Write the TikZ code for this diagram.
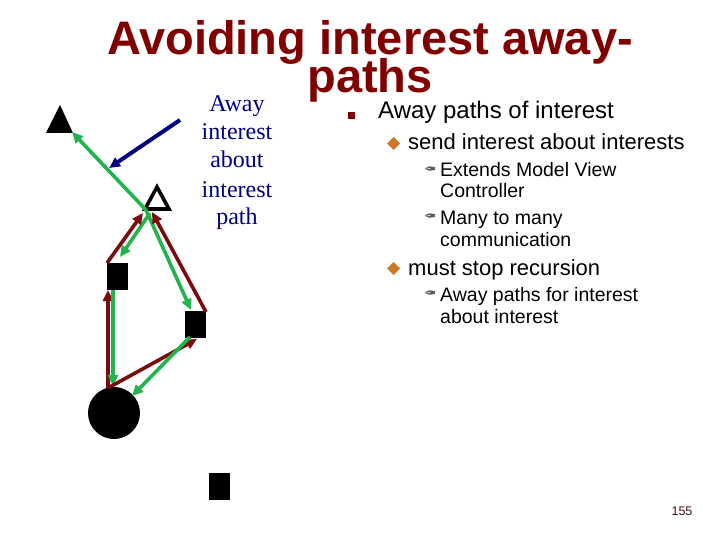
\documentclass[tikz,border=0pt]{standalone}
\usepackage{fontspec}
\setmainfont{Liberation Sans}
\newfontfamily\serifnavy{Liberation Serif}
\newfontfamily\dingfont{DejaVu Sans}
\usetikzlibrary{arrows.meta}
\definecolor{titlered}{RGB}{128,0,0}
\definecolor{arrred}{RGB}{122,12,12}
\definecolor{arrgreen}{RGB}{34,180,76}
\definecolor{navyblue}{RGB}{0,0,128}
\definecolor{bulorange}{RGB}{204,120,40}
\definecolor{pagenum}{RGB}{60,20,20}
\begin{document}
\begin{tikzpicture}[x=1pt,y=-1pt,
  titletxt/.style={font=\fontsize{47}{47}\selectfont\bfseries, text=titlered, inner sep=0, anchor=base},
  navytxt/.style={font=\serifnavy\fontsize{24}{28}\selectfont, text=navyblue, anchor=base, inner sep=0},
  lvlone/.style={font=\fontsize{24}{28}\selectfont, anchor=base west, inner sep=0},
  lvltwo/.style={font=\fontsize{22}{26}\selectfont, anchor=base west, inner sep=0},
  lvlthree/.style={font=\fontsize{19.5}{21}\selectfont, anchor=base west, inner sep=0},
  penbullet/.style={font=\dingfont\fontsize{15}{15}\selectfont, text=black!65, inner sep=0, xscale=-1},
  blkbox/.style={fill=black, draw=none, inner sep=0, minimum width=21pt, minimum height=27pt},
  tip/.style={-{Triangle[length=11pt,width=10pt]}},
  gr/.style={draw=arrgreen, line width=3.6pt, tip},
  rd/.style={draw=arrred, line width=3.6pt, tip},
  nv/.style={draw=navyblue, line width=4pt, tip}]
\useasboundingbox (0,0) rectangle (720,540);

% title
\node[titletxt] (t1) at (370,55) {Avoiding interest away-};
\node[titletxt] (t2) at (370,93) {paths};

% navy label
\node[navytxt] (n1) at (237,112) {Away};
\node[navytxt] (n2) at (237,140) {interest};
\node[navytxt] (n3) at (237,168) {about};
\node[navytxt] (n4) at (237,197) {interest};
\node[navytxt] (n5) at (237,225) {path};

% bullets
\fill[titlered] (348,112) rectangle (355,119);
\fill[bulorange] (393.5,137) -- (400,143.5) -- (393.5,150) -- (387,143.5) -- cycle;
\fill[bulorange] (393.5,262) -- (400,268.5) -- (393.5,275) -- (387,268.5) -- cycle;
\node[penbullet] (p1) at (430,171) {✒};
\node[penbullet] (p2) at (430,218) {✒};
\node[penbullet] (p3) at (430,295) {✒};

\node[lvlone] (l1) at (378,119) {Away paths of interest};
\node[lvltwo] (l2) at (408,150) {send interest about interests};
\node[lvlthree] (l3) at (440,177) {Extends Model View};
\node[lvlthree] (l4) at (440,198) {Controller};
\node[lvlthree] (l5) at (440,225) {Many to many};
\node[lvlthree] (l6) at (440,246) {communication};
\node[lvltwo] (l7) at (408,275) {must stop recursion};
\node[lvlthree] (l8) at (440,301) {Away paths for interest};
\node[lvlthree] (l9) at (440,323) {about interest};

\node[font=\fontsize{12.5}{12.5}\selectfont, text=pagenum, inner sep=0] (pg) at (682,511) {155};

% shapes
\fill (60,105) -- (46,133) -- (73,133) -- cycle;
\draw[line width=3.6pt, fill=white, line join=miter] (157,187) -- (145,209) -- (169,209) -- cycle;
\node[blkbox] (sq1) at (117.5,276.5) {};
\node[blkbox] (sq2) at (195.5,324.5) {};
\node[blkbox] (sq3) at (219.5,486.5) {};
\node[circle, fill=black, minimum size=52pt, inner sep=0] (circ) at (114,413) {};

% connector end points
\coordinate (ftb) at (72,132);
\coordinate (otl) at (146,210);
\coordinate (otm) at (150,213);
\coordinate (otr) at (152,212);
\coordinate (otll) at (143,213);
\coordinate (s1tl) at (107,263);
\coordinate (s1tr) at (120,257);
\coordinate (s1bl) at (108,290);
\coordinate (s1br) at (113,290);
\coordinate (s2t) at (191,310);
\coordinate (s2tr) at (206,312);
\coordinate (s2b) at (197,339);
\coordinate (s2bl) at (190,337);
\coordinate (ctop) at (108,388);
\coordinate (ct2) at (113,386);
\coordinate (cr) at (132,396);
\coordinate (nvs) at (180,120);
\coordinate (nve) at (109,168);

% connectors
\draw[nv] (nvs) -- (nve);
\draw[gr] (otl) -- (ftb);
\draw[gr] (otl) -- (s2t);
\draw[gr] (otm) -- (s1tr);
\draw[rd] (s1tl) -- (otll);
\draw[rd] (s2tr) -- (otr);
\draw[rd] (ctop) -- (s1bl);
\draw[gr] (s1br) -- (ct2);
\draw[rd] (ctop) -- (s2b);
\draw[gr] (s2bl) -- (cr);
\end{tikzpicture}
\end{document}
